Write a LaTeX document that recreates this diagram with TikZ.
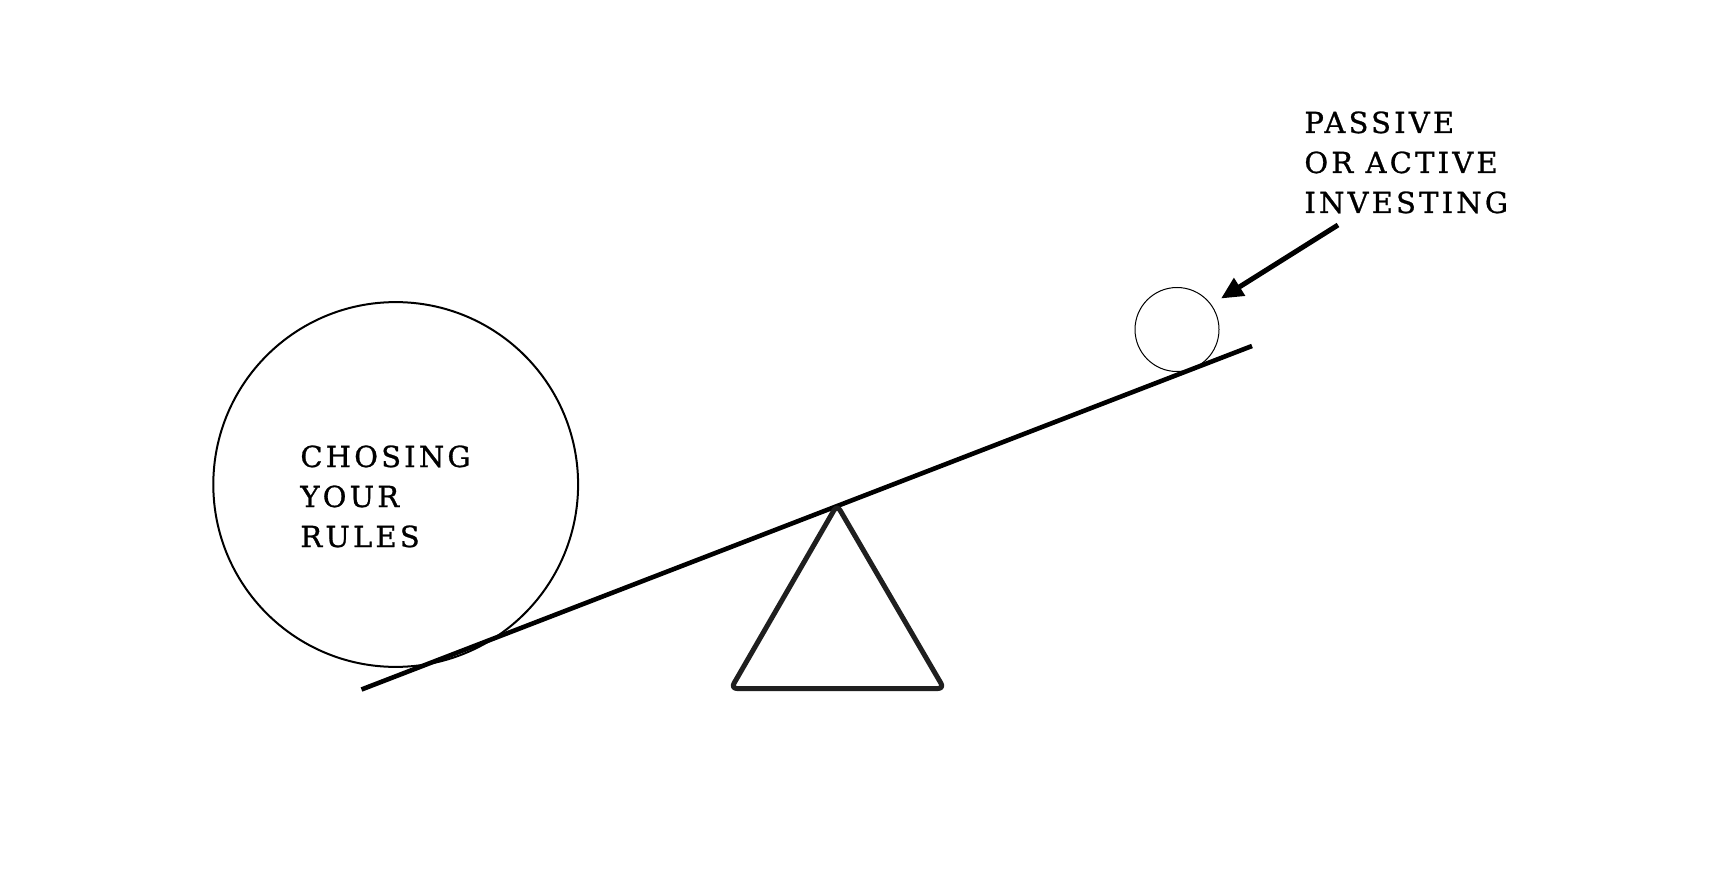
\documentclass[tikz,border=0pt]{standalone}
\usepackage{fontspec}
\setmainfont{DejaVu Serif}
\usetikzlibrary{arrows.meta}
\begin{document}
\begin{tikzpicture}[x=0.5pt,y=-0.5pt,
  lbl/.style={anchor=base west,inner sep=0pt,font=\fontsize{14.5}{20}\selectfont\addfontfeatures{LetterSpace=11,FakeBold=0.9}},
  beam/.style={line width=2.3pt,line cap=butt},
  fulcrum/.style={line width=2.5pt,draw=black!88,rounded corners=3pt,line join=round},
  pointer/.style={line width=2.5pt,-{Triangle[length=11pt,width=10pt]}}]
\fill[white] (0,0) rectangle (1728,893);
\useasboundingbox (0,0) rectangle (1728,893);
% big circle
\node[circle,draw,line width=1pt,minimum size=182.4pt,inner sep=0pt] (big) at (395.7,484.5) {};
% small circle
\node[circle,draw,line width=0.5pt,minimum size=42pt,inner sep=0pt] (small) at (1177,329.5) {};
% beam
\coordinate (bl) at (361.5,689.5);
\coordinate (br) at (1252,346);
\draw[beam] (bl) -- (br);
% fulcrum
\coordinate (ta) at (837,505);
\coordinate (tl) at (731,688.5);
\coordinate (tr) at (944,688.5);
\draw[fulcrum] (ta) -- (tr) -- (tl) -- cycle;
% labels
\node[lbl] (p1) at (1304,133) {PASSIVE};
\node[lbl] (p2) at (1304,173) {OR ACTIVE};
\node[lbl] (p3) at (1304,213) {INVESTING};
\node[lbl] (c1) at (300,467) {CHOSING};
\node[lbl] (c2) at (300,507) {YOUR};
\node[lbl] (c3) at (300,547) {RULES};
% arrow
\coordinate (atail) at (1338,225);
\coordinate (ahead) at (1221,298.5);
\draw[pointer] (atail) -- (ahead);
\end{tikzpicture}
\end{document}
